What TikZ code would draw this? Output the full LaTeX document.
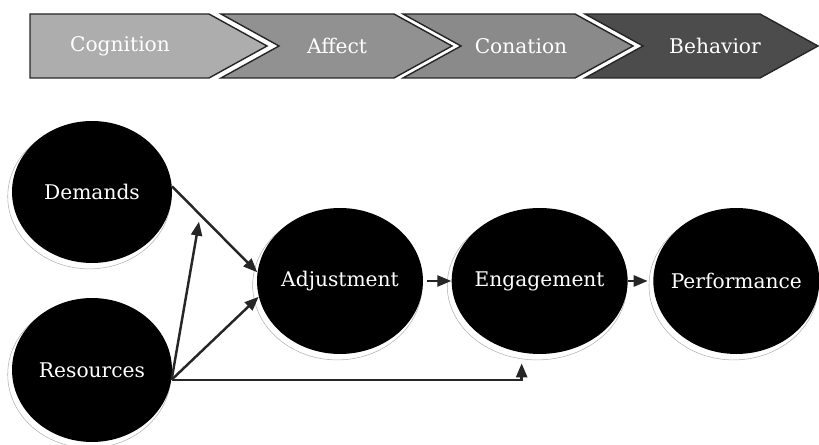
\documentclass[tikz,border=0pt]{standalone}
\usepackage{fontspec}
\setmainfont{DejaVu Serif}
\usepackage{xcolor}
\usetikzlibrary{shapes.geometric, arrows.meta, positioning, calc, shadows}

% keeps the ellipse from growing around its label
\newcommand{\bubblelabel}[1]{\makebox[0pt]{#1}}

\begin{document}
\begin{tikzpicture}[
    x=0.02cm, y=-0.02cm,
    stage/.style={
        draw=black!85,
        line width=0.8pt
    },
    stagetext/.style={
        text=white,
        font=\fontsize{11.5}{14}\selectfont
    },
    bubble/.style={
        ellipse,
        fill=black,
        text=white,
        inner sep=0pt,
        minimum width=3.32cm,
        minimum height=2.92cm,
        font=\fontsize{11.5}{14}\selectfont,
        general shadow={fill=white, draw=gray!60, line width=0.3pt,
            shadow xshift=-1.5pt, shadow yshift=-2.5pt, shadow scale=1.02}
    },
    arrow/.style={-{Triangle[length=2.8mm, width=2.2mm]}, line width=1.4pt, draw=black!85}
]
    \useasboundingbox (0,0) rectangle (819,445);

    % Chevron band along the top
    \foreach \l/\r/\n/\tone/\id/\word/\tx in {
        30/209/0/black!32/cog/Cognition/120,
        221/394/58/black!43/aff/Affect/337,
        403/575/58/black!46/con/Conation/521,
        585/760/58/black!70/beh/Behavior/715}
    {
        \filldraw [stage, fill=\tone] (\l,14) -- (\r,14) -- (\r+58,46) -- (\r,78)
            -- (\l,78) -- (\l+\n,46) -- cycle;
        \node [stagetext] (\id) at (\tx,46) {\word};
    }

    % Antecedents on the left, chain to the right
    \node [bubble, minimum width=3.2cm, minimum height=2.84cm] (dem) at (92,192) {\bubblelabel{Demands}};
    \node [bubble, minimum width=3.2cm, minimum height=2.88cm] (res) at (92,370) {\bubblelabel{Resources}};
    \node [bubble] (adj) at (340,281) {\bubblelabel{Adjustment}};
    \node [bubble, minimum width=3.52cm, right=0.56cm of adj] (eng) {\bubblelabel{Engagement}};
    \node [bubble, right=0.5cm of eng] (perf) {\bubblelabel{Performance}};

    % Helper points for the moderating and direct links
    \coordinate (modpt) at ($(dem.4)!0.33!(adj.174)$);
    \coordinate (engfoot) at ($(eng.south)+(-18,9)$);

    % Draw Directed Connections
    \draw [arrow] (dem.4) -- (adj.174);
    \draw [arrow] (res.-7) -- (adj.191);
    \draw [arrow, shorten >=4pt] (res.-7) -- (modpt);
    \draw [arrow] (res.-7) -| (engfoot);
    \draw [arrow, shorten <=2pt] (adj) -- (eng);
    \draw [arrow, shorten >=3pt] (eng) -- (perf);

\end{tikzpicture}
\end{document}
